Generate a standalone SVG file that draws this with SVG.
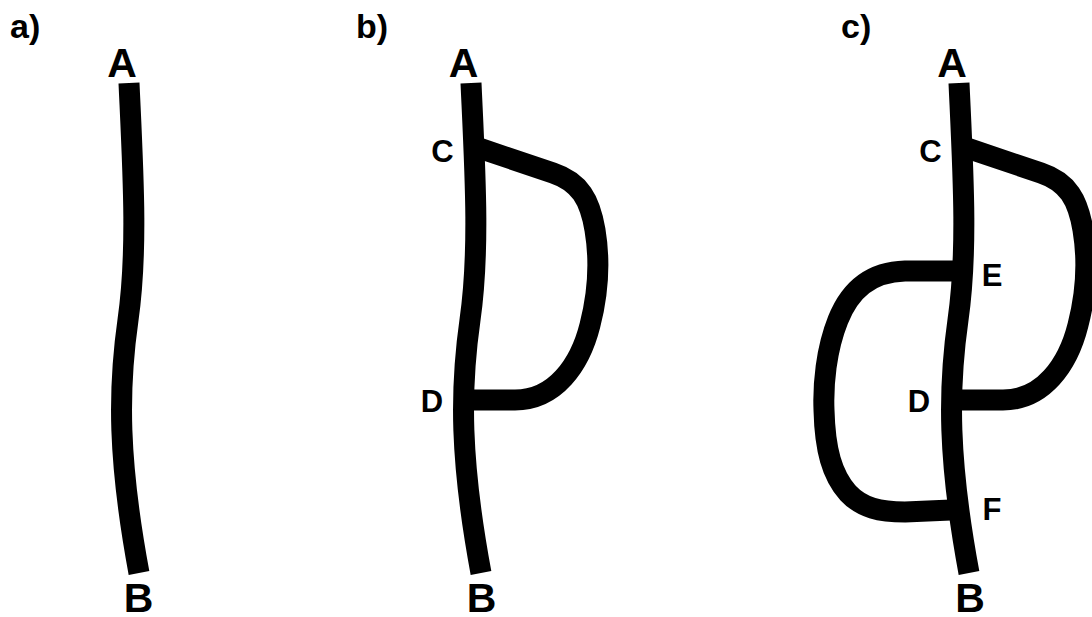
<svg xmlns="http://www.w3.org/2000/svg" width="1092" height="617" viewBox="0 0 1092 617">
<style>
.s{fill:none;stroke:#000;stroke-width:21;stroke-linecap:butt;stroke-linejoin:round}
text{font-family:"Liberation Sans",Arial,sans-serif;font-weight:bold;fill:#000}
.p{font-size:34px}
.e{font-size:41px;text-anchor:middle}
.m{font-size:31px;text-anchor:middle}
</style>
<rect width="1092" height="617" fill="#fff"/>
<defs>
<path id="strand" d="M 129 83 C 133 170, 138 250, 128 320 C 118 390, 118 460, 139 573"/>
</defs>
<g id="connectors">
<use href="#strand" class="s"/>
<use href="#strand" class="s" transform="translate(342,0)"/>
<use href="#strand" class="s" transform="translate(830,0)"/>
<path class="s" d="M 476 147 L 553 173 C 580 182, 590 200, 595 230 C 600 260, 599 290, 590 325 C 580 365, 555 400, 515 400 L 474 400"/>
<path class="s" d="M 964 147 L 1041 173 C 1068 182, 1078 200, 1083 230 C 1088 260, 1087 290, 1078 325 C 1068 365, 1043 400, 1003 400 L 962 400"/>
<path class="s" d="M 956 271 L 905 271 C 870 272, 850 290, 838 320 C 826 350, 823 385, 824 410 C 825 450, 832 475, 848 493 C 862 508, 880 512, 905 512 L 951 510"/>
</g>
<g id="panel-a">
<text class="p" x="10" y="38">a)</text>
<text class="e" x="122" y="77">A</text>
<text class="e" x="138.5" y="612">B</text>
</g>
<g id="panel-b">
<text class="p" x="356" y="38">b)</text>
<text class="e" x="463.5" y="77">A</text>
<text class="e" x="481.5" y="612">B</text>
<text class="m" x="442.5" y="162">C</text>
<text class="m" x="432" y="412">D</text>
</g>
<g id="panel-c">
<text class="p" x="841" y="38">c)</text>
<text class="e" x="952" y="77">A</text>
<text class="e" x="970" y="612">B</text>
<text class="m" x="930.5" y="162">C</text>
<text class="m" x="919" y="412">D</text>
<text class="m" x="992" y="286">E</text>
<text class="m" x="992" y="520">F</text>
</g>
</svg>
